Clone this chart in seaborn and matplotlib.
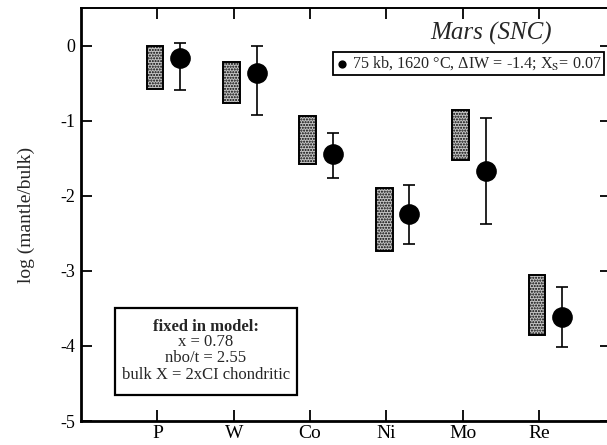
import numpy as np
import seaborn as sns
import matplotlib.pyplot as plt
from matplotlib.patches import Rectangle

elements = ['P', 'W', 'Co', 'Ni', 'Mo', 'Re']
# stippled boxes: observed range
box_low = [-0.58, -0.76, -1.58, -2.73, -1.52, -3.85]
box_high = [0.0, -0.22, -0.94, -1.90, -0.86, -3.05]
# model points with error bars
model = [-0.17, -0.37, -1.45, -2.25, -1.67, -3.62]
err_low = [-0.59, -0.92, -1.76, -2.64, -2.37, -4.02]
err_high = [0.03, 0.0, -1.16, -1.86, -0.96, -3.22]

sns.set_theme(style="ticks")
plt.rcParams['font.family'] = ['Liberation Serif', 'DejaVu Serif']
plt.rcParams['mathtext.fontset'] = 'stix'
plt.rcParams['hatch.color'] = '#8a8a8a'

fig = plt.figure(figsize=(6.07, 4.45), dpi=100)
ax = fig.add_axes([81 / 607, 24 / 445, 530 / 607, 413 / 445])

x = np.arange(len(elements))
ax.bar(x - 0.03, np.array(box_high) - np.array(box_low), bottom=box_low, width=0.22,
       color='#c4c4c4', edgecolor='black', linewidth=1.4, hatch='......', zorder=2)

xm = x + 0.30
yerr = [np.array(model) - np.array(err_low), np.array(err_high) - np.array(model)]
ax.errorbar(xm, model, yerr=yerr, fmt='none', ecolor='black', elinewidth=1.2,
            capsize=4.3, capthick=1.2, zorder=3)
sns.scatterplot(x=xm, y=model, ax=ax, color='black', s=190, edgecolor='black',
                zorder=4, label='75 kb, 1620 °C, ΔIW = -1.4; X$_\\mathrm{S}$= 0.07')

ax.set_xlim(-1.0, 5.94)
ax.set_ylim(-5, 0.5)
ax.set_xticks(x)
ax.set_xticklabels(elements)
ax.set_yticks([0, -1, -2, -3, -4, -5])
ax.set_yticklabels(['0', '-1', '-2', '-3', '-4', '-5'])
ax.tick_params(axis='x', direction='in', length=8, width=1.3, top=True,
               labelsize=14, pad=3, colors='black')
ax.tick_params(axis='y', direction='in', length=8, width=1.3, right=True,
               labelsize=13, pad=4, colors='black')
for side in ['left', 'bottom']:
    ax.spines[side].set_linewidth(2.0)
for side in ['top', 'right']:
    ax.spines[side].set_linewidth(1.4)
for s in ax.spines.values():
    s.set_color('black')

ax.set_ylabel('log (mantle/bulk)', fontsize=14, labelpad=18)

ax.text(0.774, 0.939, 'Mars (SNC)', transform=ax.transAxes, fontsize=18,
        style='italic', ha='center', va='center')

leg = ax.legend(loc='upper right', bbox_to_anchor=(0.987, 0.8935), fontsize=11.6,
                frameon=True, fancybox=False, framealpha=1, edgecolor='black',
                handletextpad=0.3, handlelength=0.7, borderpad=0.15,
                borderaxespad=0, markerscale=0.35)
leg.get_frame().set_linewidth(1.3)

ax.add_patch(Rectangle((0.064, 0.063), 0.343, 0.211, transform=ax.transAxes,
                       fill=False, edgecolor='black', linewidth=1.6, zorder=5))
cx = 0.064 + 0.343 / 2
ax.text(cx, 0.2276, 'fixed in model:', transform=ax.transAxes, fontsize=12,
        fontweight='bold', ha='center', va='center')
ax.text(cx, 0.191, 'x = 0.78', transform=ax.transAxes, fontsize=12, ha='center', va='center')
ax.text(cx, 0.1525, 'nbo/t = 2.55', transform=ax.transAxes, fontsize=12, ha='center', va='center')
ax.text(cx, 0.111, 'bulk X = 2xCI chondritic', transform=ax.transAxes, fontsize=12,
        ha='center', va='center')

fig.savefig('out.png', dpi=100)
